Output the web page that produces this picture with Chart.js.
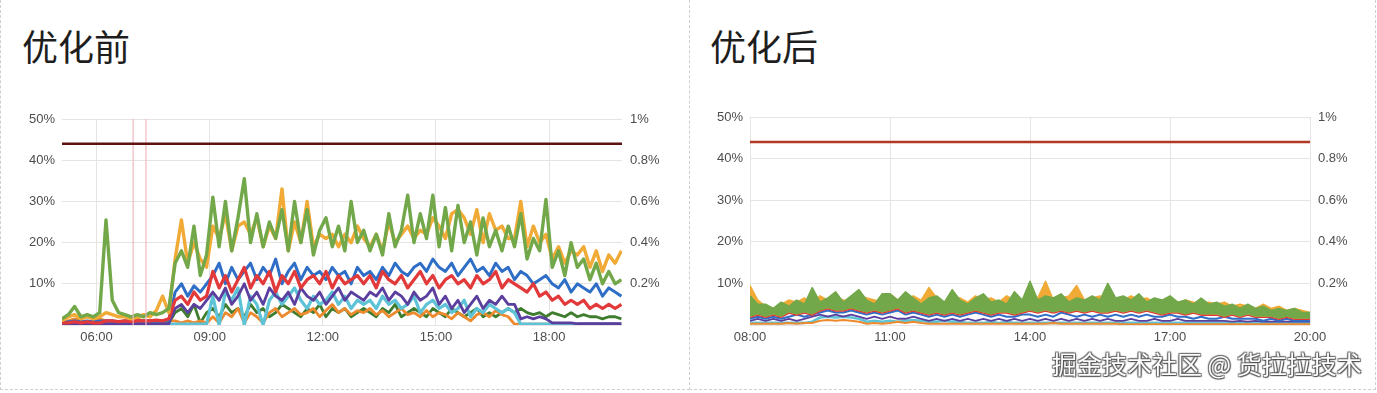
<!DOCTYPE html>
<html>
<head>
<meta charset="utf-8">
<script src="https://cdn.jsdelivr.net/npm/chart.js@4.4.1/dist/chart.umd.min.js"></script>
<style>
  html, body { margin: 0; padding: 0; background: #fff; width: 1377px; height: 393px; overflow: hidden; }
  .frame { position: absolute; box-sizing: border-box; border: 1px dashed #cfcfcf; border-top: none; }
  .title { position: absolute; font-family: "Noto Sans CJK SC", sans-serif; font-size: 36px; line-height: 36px; color: #1e1e1e; }
  .mark { position: absolute; font-family: "Noto Sans CJK SC", sans-serif; font-size: 25px; line-height: 25px; color: #fff;
          text-shadow: 0 0 1px #333, 1px 1px 1px #555, -1px -1px 1px #777, 1px -1px 1px #777, -1px 1px 1px #777; white-space: nowrap; }
  canvas { position: absolute; top: 0; }
</style>
</head>
<body>
<div class="frame" style="left:0;top:0;width:690px;height:390px;"></div>
<div class="frame" style="left:689px;top:0;width:687px;height:390px;border-left:none;"></div>
<div class="title" style="left:22px;top:27px;">优化前</div>
<div class="title" style="left:710px;top:27px;">优化后</div>
<canvas id="before" width="689" height="360" style="left:0;"></canvas>
<canvas id="after" width="687" height="360" style="left:690px;"></canvas>
<div class="mark" style="left:1052px;top:351px;">掘金技术社区 @ 货拉拉技术</div>

<script>
// ---- sampling grid (hours of day) ----
const beforeStart = 5 + 5 / 60, beforeStep = 10 / 60, beforeCount = 90;
const afterStart = 8, afterStep = 10 / 60, afterCount = 73;

// ---- axis ticks ----
const beforeTickHours = [6, 9, 12, 15, 18];
const beforeTickLabels = ['06:00', '09:00', '12:00', '15:00', '18:00'];
const afterTickHours = [8, 11, 14, 17, 20];
const afterTickLabels = ['08:00', '11:00', '14:00', '17:00', '20:00'];
const leftAxisValues = [0, 10, 20, 30, 40, 50];
const leftAxisLabels = ['', '10%', '20%', '30%', '40%', '50%'];
const rightAxisValues = [0, 0.2, 0.4, 0.6, 0.8, 1];
const rightAxisLabels = ['', '0.2%', '0.4%', '0.6%', '0.8%', '1%'];

// ---- threshold and markers ----
const thresholdBefore = 44;
const thresholdAfter = 44;
const markerHours = [6.97, 7.31];

// ---- before: utilisation per instance (%) ----
const greenBefore = [1.5, 2.5, 4.5, 2, 2.5, 2, 3, 25.5, 6, 3, 2.5, 2, 2.5, 2, 3, 2.5, 3, 4,
  15, 18, 14, 24, 12, 17, 31, 19, 30, 18, 26, 35.5,
  20, 27, 19, 25, 21, 28, 18, 30, 20, 28, 17, 23, 26, 19, 24, 18, 30, 20,
  23, 18, 22, 17, 27, 19, 23, 31.5, 20, 27, 21, 31.5,
  19, 28.5, 18, 29, 20, 25, 17, 26, 19, 23, 18, 24,
  19, 27, 16, 21, 18, 30.5,
  14, 18, 12, 20, 14, 16, 11, 15, 10, 13, 10, 11];
const amberBefore = [1, 2, 2.5, 1.5, 2, 1.5, 2, 3, 2.5, 2, 2, 1.5, 2, 2.5, 2, 3.5, 7, 3,
  16, 25.5, 15, 20, 16, 14, 24, 21, 27, 18, 24, 25,
  22, 26, 19, 24, 21, 33, 18, 25, 20, 30, 19, 22, 21, 22, 19, 22, 20, 24,
  21, 19, 22, 18, 25, 20, 22, 24, 21, 23, 22, 26,
  24, 21, 27, 28, 26, 22, 28, 20, 27, 23, 24, 21,
  21, 30, 19, 24, 20, 22,
  16, 19, 15, 18, 17, 19, 14, 18, 13, 17, 15, 18];
const blueBefore = [0.5, 0.8, 1, 0.8, 1, 0.8, 1, 1, 1, 0.8, 1, 0.8, 1, 1, 1, 1, 1, 1.2,
  8, 10, 7, 9.5, 8, 10,
  12, 15, 10, 14, 11, 13, 15, 11, 14, 12, 16, 10, 13, 15, 11, 14, 12, 13, 11, 14, 12, 13, 10, 14,
  12, 13, 11, 14, 12, 15, 13, 12, 14, 15, 13, 16, 14, 13, 15, 12, 14, 16, 13, 14, 12, 15, 13, 14,
  11, 13, 12, 10, 11, 12, 10, 9, 11, 8, 10, 9, 8, 10, 7, 9, 8, 7];
const redBefore = [0.5, 0.5, 0.8, 0.5, 0.8, 0.5, 0.5, 1, 1, 0.8, 1, 0.8, 1, 1, 1, 1.2, 1, 1.5,
  6, 7, 5, 8, 6, 7,
  13, 9, 12, 8, 11, 14, 9, 12, 10, 13, 8, 12, 10, 13, 9, 11, 12, 10, 13, 9, 12, 10, 11, 12,
  10, 12, 9, 13, 11, 10, 12, 9, 11, 13, 10, 12, 9, 11, 12, 10, 11, 9, 12, 10, 11, 13, 9, 11,
  10, 9, 8, 10, 7, 8, 6, 7, 5, 6, 5, 6, 4, 5, 4, 5, 4, 5];
const purpleBefore = [0.3, 0.3, 0.3, 0.3, 0.3, 0.3, 0.3, 0.3, 0.3, 0.3, 0.3, 0.3, 0.3, 0.3, 0.3, 0.3, 0.3, 0.3,
  4, 5, 3, 5, 4, 6,
  8, 6, 9, 5, 7, 10, 6, 8, 5, 9, 7, 6, 8, 5, 9, 7, 6, 8, 5, 7, 9, 6, 8, 7,
  6, 8, 7, 9, 6, 8, 7, 5, 8, 6, 7, 9, 5, 7, 4, 6, 3, 5, 7, 4, 6, 5, 7, 5,
  5, 1.5, 2, 1.5, 2, 1.5, 0.5, 0.5, 0.5, 0.5, 0.3, 0.3, 0.3, 0.3, 0.3, 0.3, 0.3, 0.3];
const cyanBefore = [0.2, 0.2, 0.2, 0.2, 0.2, 0.2, 0.2, 0.2, 0.2, 0.2, 0.2, 0.2,
  0.2, 0.2, 0.2, 0.2, 0.2, 0.2, 0.2, 0.2, 0.2, 0.2, 0.2, 0.2,
  7, 0, 8, 6, 9, 0, 7, 5, 0, 6, 8, 5, 7, 9, 6, 4, 7, 5, 6, 8, 5, 7, 4, 6,
  5, 6, 4, 7, 5, 6, 4, 5, 7, 3, 5, 6, 4, 5, 3, 4, 6, 2, 4, 3, 5, 4, 3, 4,
  3, 0.2, 0.2, 0.2, 0.2, 0.2, 0.2, 0.2, 0.2, 0.2, 0.2, 0.2, 0.2, 0.2, 0.2, 0.2, 0.2, 0.2];
const orangeBefore = [0.5, 1, 1.5, 1, 0.5, 1, 1.5, 1, 1, 0.5, 1, 1, 1.5, 1, 1, 0.8, 1, 1, 1, 0.5, 1, 0.5, 1, 0.5,
  2, 0.5, 3, 2, 4, 0.5, 3, 2, 0.5, 3, 4, 2, 3, 4, 2.5, 3, 4, 2, 3.5, 5, 3, 4, 2.5, 3.5,
  3, 4, 2.5, 3.5, 2, 3, 4, 2.5, 3, 2, 3.5, 2, 3, 2.5, 1.5, 3, 2, 1, 2.5, 3, 2, 3.5, 2.5, 2,
  0.2, 0.2, 0.2, 0.2, 0.2, 0.2, 0.2, 0.2, 0.2, 0.2, 0.2, 0.2, 0.2, 0.2, 0.2, 0.2, 0.2, 0.2];
const forestBefore = [0.5, 0.5, 0.5, 0.5, 0.5, 0.5, 0.5, 0.5, 0.5, 0.5, 0.5, 0.5, 0.5, 0.5, 0.5, 0.5, 0.5, 0.5,
  3, 4, 2, 5, 0.5, 3,
  4, 2, 5, 3, 4, 2, 5, 3, 4, 2, 3, 5, 4, 3, 2, 4, 3, 5, 2, 4, 3, 4, 2, 3,
  4, 3, 2, 4, 3, 5, 2, 3, 4, 3, 2, 4, 3, 2, 4, 3, 2, 3, 4, 2, 3, 2, 3, 4,
  3, 4, 3, 2.5, 3, 2, 3, 2.5, 2, 3, 2, 2.5, 2, 2, 1.5, 2, 2, 1.5];

// ---- after: utilisation per instance (%) ----
const greenAfter = [7, 5, 5, 4, 5.5, 4.5, 6, 5, 9, 5.5, 6.5, 8,
  5.5, 7, 8.5, 6, 5, 7.5, 7.5, 6, 8, 6.5, 5, 6.5,
  7, 5.5, 8.5, 6, 5, 6.5, 7.5, 5.5, 6, 5, 8, 6,
  10.5, 6, 7, 6.5, 7.5, 5.5, 6.5, 6, 7, 6, 10, 6.5,
  7, 6, 7.5, 5.5, 6.5, 6, 7, 5.5, 6, 5, 6.5, 5,
  5.5, 4.5, 5, 4, 5, 4, 4.5, 3.5, 4, 3.5, 4, 3, 3];
const amberAfter = [9.5, 6, 4.5, 4, 5, 6, 5.5, 6.5, 5, 7, 6, 6.5,
  6, 5.5, 7, 6.5, 6, 5.5, 7.5, 6, 5.5, 7, 6, 9,
  6.5, 5, 6, 6.5, 5.5, 7, 6, 6.5, 5.5, 7, 6, 5.5,
  7, 6.5, 10.5, 6, 6.5, 7, 9.5, 6, 6.5, 7, 6, 6.5,
  6, 7, 6, 6.5, 5.5, 6, 6.5, 5, 6, 5.5, 5, 5.5,
  5, 5.5, 4.5, 5, 4.5, 4, 5, 4, 4.5, 3.5, 4, 3.5, 3];
const redAfter = [2, 2.5, 2, 2.5, 2, 3, 2.5, 3, 2.5, 3.5, 4, 3.5,
  3.5, 4, 3.5, 3, 3.5, 3, 3.5, 4, 3, 3.5, 3, 2.5,
  3, 2.5, 3, 2.5, 3, 3.5, 3, 2.5, 3, 3, 2.5, 3,
  3.5, 3, 3.5, 3, 3.5, 3, 3.5, 3, 3.5, 3, 3, 3.5,
  3, 3.5, 3, 3.5, 3, 2.5, 3, 3, 2.5, 3, 2.5, 2.5,
  2.5, 2, 2.5, 2, 2.5, 2, 2, 2, 1.5, 2, 1.5, 1.5, 1.5];
const blueAfter = [1.5, 2, 1.5, 2, 1.5, 2, 2.5, 2, 2.5, 3, 3.5, 3,
  3, 3.5, 3, 2.5, 3, 2.5, 3, 3.5, 2.5, 3, 2.5, 2,
  2.5, 2, 2.5, 2, 2.5, 3, 2.5, 2, 2.5, 2, 2, 2.5,
  2.5, 2, 2.5, 2, 3, 2.5, 2, 2.5, 2, 2.5, 2, 2.5,
  2, 2.5, 2, 2.5, 2, 2, 2.5, 2, 2, 1.5, 2, 1.5,
  1.5, 2, 1.5, 1.5, 1.5, 1.5, 1, 1.5, 1, 1.5, 1, 1, 1];
const purpleAfter = [1, 1.5, 1, 1.5, 1, 1.5, 1, 1.5, 2, 2.5, 2, 2.5,
  2, 2.5, 2, 1.5, 2, 1.5, 2, 1.5, 1.5, 2, 1.5, 1,
  1.5, 1, 1.5, 1, 1.5, 1, 1.5, 1, 1.5, 1, 1.5, 1,
  1.5, 1, 1.5, 1, 1.5, 1, 1.5, 1, 1.5, 1, 1.5, 1,
  1, 1.5, 1, 1, 1.5, 1, 1, 1.5, 1, 1, 1, 1,
  1, 1, 0.8, 1, 0.8, 1, 0.8, 0.8, 0.8, 0.8, 0.8, 0.8, 0.8];
const cyanAfter = [0.5, 0.5, 0.5, 0.5, 0.5, 0.5, 0.5, 0.5, 0.8, 1.8, 2, 1.8,
  2, 1.8, 1.5, 0.8, 1, 0.8, 1, 0.8, 1, 1.2, 1, 0.8,
  0.8, 1, 0.8, 0.8, 0.5, 0.5, 0.5, 0.8, 0.5, 0.8, 0.5, 0.5,
  0.5, 0.5, 0.5, 0.5, 0.5, 0.5, 0.5, 0.5, 0.5, 0.5, 0.5, 0.5,
  0.5, 0.5, 0.5, 0.5, 0.5, 0.5, 0.5, 0.5, 0.5, 0.5, 0.5, 0.5,
  0.5, 0.5, 0.5, 0.5, 0.5, 0.5, 0.5, 0.5, 0.5, 0.5, 0.5, 0.5, 0.5];
const orangeAfter = [0.3, 0.3, 0.3, 0.3, 0.3, 0.5, 0.3, 0.5, 0.5, 1, 1.2, 1,
  1.2, 1, 0.8, 0.3, 0.5, 0.3, 0.5, 0.8, 0.5, 0.8, 0.5, 0.3,
  0.3, 0.3, 0.3, 0.3, 0.3, 0.3, 0.3, 0.3, 0.3, 0.3, 0.3, 0.3,
  0.3, 0.3, 0.3, 0.5, 0.3, 0.3, 0.3, 0.3, 0.3, 0.3, 0.3, 0.3,
  0.2, 0.2, 0.2, 0.2, 0.2, 0.2, 0.2, 0.2, 0.2, 0.2, 0.2, 0.2,
  0.2, 0.2, 0.2, 0.2, 0.2, 0.2, 0.2, 0.2, 0.2, 0.2, 0.2, 0.2, 0.2];

// ---- palette ----
const COLORS = {
  green: '#72a84a', amber: '#f0aa35', blue: '#2f6ec6', red: '#e2393b',
  purple: '#5a3f9e', cyan: '#5ec3d7', orange: '#ec8a2d', forest: '#3e7d2e'
};

function sampleHours(start, step, count) {
  const out = [];
  for (let i = 0; i < count; i++) out.push(start + i * step);
  return out;
}

const tickFont = { family: '"Liberation Sans", Arial, sans-serif', size: 13 };
const tickColor = '#4d4d4d';
const gridColor = '#e6e3e3';

function series(data, color, width, extra) {
  return Object.assign({
    data, borderColor: color, backgroundColor: color, borderWidth: width,
    pointRadius: 0, tension: 0, fill: false, borderJoinStyle: 'round'
  }, extra || {});
}

function buildOptions(cfg) {
  return {
    responsive: false,
    animation: false,
    devicePixelRatio: 1,
    layout: { padding: { top: cfg.top, left: 0, right: 0, bottom: 0 } },
    plugins: { legend: { display: false }, tooltip: { enabled: false } },
    scales: {
      x: {
        type: 'linear', min: cfg.xMin, max: cfg.xMax,
        afterBuildTicks: s => { s.ticks = cfg.tickHours.map(v => ({ value: v })); },
        afterFit: s => { s.height = 35; },
        ticks: { font: tickFont, color: tickColor, padding: 5, maxRotation: 0, autoSkip: false,
                 callback: (v, i) => cfg.tickLabels[i] },
        grid: { color: gridColor, drawTicks: false, lineWidth: 1 },
        border: { display: false }
      },
      y: {
        type: 'linear', position: 'left', min: 0, max: 50,
        afterBuildTicks: s => { s.ticks = leftAxisValues.map(v => ({ value: v })); },
        afterFit: s => { s.width = cfg.leftWidth; },
        ticks: { font: tickFont, color: tickColor, padding: 7, callback: (v, i) => leftAxisLabels[i] },
        grid: { color: gridColor, drawTicks: false },
        border: { display: false }
      },
      y2: {
        type: 'linear', position: 'right', min: 0, max: 1, display: true,
        afterBuildTicks: s => { s.ticks = rightAxisValues.map(v => ({ value: v })); },
        afterFit: s => { s.width = cfg.rightWidth; },
        ticks: { font: tickFont, color: tickColor, padding: 8, callback: (v, i) => rightAxisLabels[i] },
        grid: { display: false, drawTicks: false },
        border: { display: false }
      }
    }
  };
}

// ---- before optimisation ----
const beforeHours = sampleHours(beforeStart, beforeStep, beforeCount);
const bMin = 5 + 5 / 60, bMax = 19 + 56 / 60;
new Chart(document.getElementById('before'), {
  type: 'line',
  data: {
    labels: beforeHours,
    datasets: [
      series([{ x: bMin, y: thresholdBefore }, { x: bMax, y: thresholdBefore }], '#5e1212', 2.5),
      series([{ x: markerHours[0], y: 0 }, { x: markerHours[0], y: 50 }], '#efb9bd', 1.2),
      series([{ x: markerHours[1], y: 0 }, { x: markerHours[1], y: 50 }], '#efb9bd', 1.2),
      series(greenBefore, COLORS.green, 3.4),
      series(amberBefore, COLORS.amber, 3.4),
      series(redBefore, COLORS.red, 3.2),
      series(blueBefore, COLORS.blue, 3),
      series(purpleBefore, COLORS.purple, 2.8),
      series(cyanBefore, COLORS.cyan, 3.2),
      series(orangeBefore, COLORS.orange, 2.8),
      series(forestBefore, COLORS.forest, 2.8)
    ]
  },
  options: buildOptions({ top: 119, xMin: bMin, xMax: bMax, tickHours: beforeTickHours,
                          tickLabels: beforeTickLabels, leftWidth: 62, rightWidth: 67 })
});

// ---- after optimisation ----
const afterHours = sampleHours(afterStart, afterStep, afterCount);
new Chart(document.getElementById('after'), {
  type: 'line',
  data: {
    labels: afterHours,
    datasets: [
      series([{ x: 8, y: thresholdAfter }, { x: 20, y: thresholdAfter }], '#b23a24', 2.5),
      series(greenAfter, COLORS.green, 1.5, { fill: { target: 3 } }),
      series(amberAfter, COLORS.amber, 1.5, { fill: { target: 3 } }),
      series(redAfter, COLORS.red, 2.6),
      series(blueAfter, COLORS.blue, 2),
      series(purpleAfter, COLORS.purple, 1.8),
      series(orangeAfter, COLORS.orange, 2),
      series(cyanAfter, COLORS.cyan, 2.6)
    ]
  },
  options: buildOptions({ top: 117, xMin: 8, xMax: 20, tickHours: afterTickHours,
                          tickLabels: afterTickLabels, leftWidth: 60, rightWidth: 67 })
});
</script>
</body>
</html>
